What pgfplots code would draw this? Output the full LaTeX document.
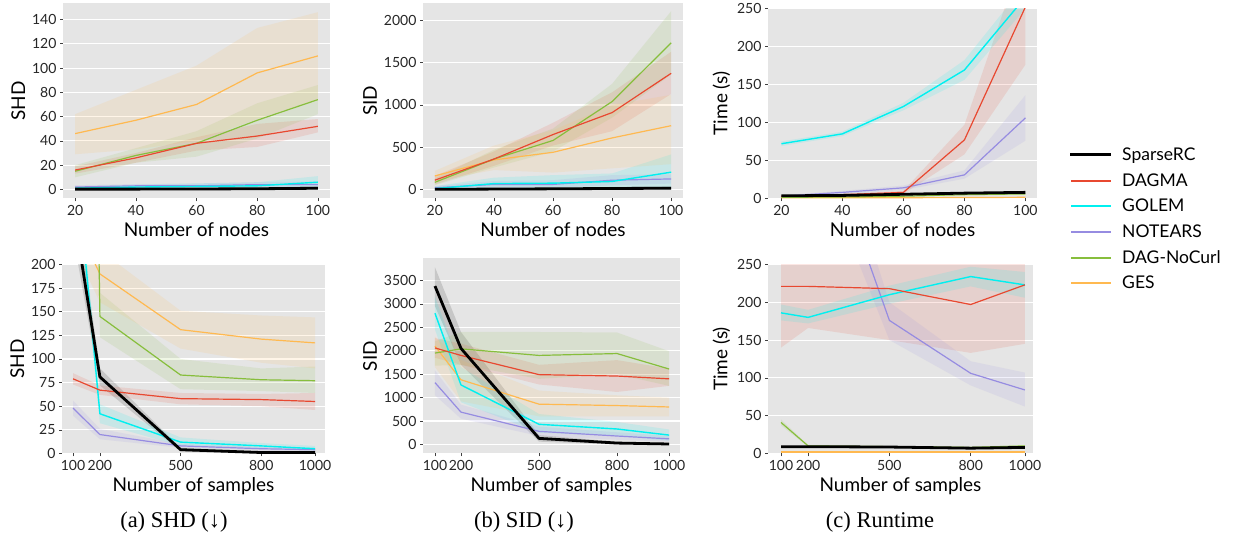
\documentclass[border=0pt]{standalone}
\usepackage{pgfplots}
\pgfplotsset{compat=1.18}
\usepackage{pgfplotstable}
\usepgfplotslibrary{fillbetween}
\usepackage{fontspec}
\setmainfont{Lato}
\newfontfamily\capfont{Liberation Serif}

\definecolor{ggbg}{RGB}{229,229,229}
\definecolor{colDAGMA}{RGB}{232,72,48}
\definecolor{colGOLEM}{RGB}{0,240,240}
\definecolor{colNOTEARS}{RGB}{150,140,225}
\definecolor{colNOCURL}{RGB}{135,190,60}
\definecolor{colGES}{RGB}{255,185,80}

\pgfplotstableread{
x S Slo Shi D Dlo Dhi G Glo Ghi N Nlo Nhi C Clo Chi E Elo Ehi
20 0.3 0 0.8 16 13 19 1 0 2.5 2 1 3.5 15 10 20 46 29 62
40 0.3 0 0.9 26 22 30 2 0.5 4 3 1.5 4.5 28 22 34 57 33 82
60 0.4 0 1.2 38 32 43 2.5 0.5 5 3 1.5 5 38 27 48 70 40 102
80 0.6 0 1.6 44 35 54 3 1 6 4 2 6 57 42 71 96 58 133
100 1 0 2.5 52 47 58 6 1 11 4 2 6.5 74 62 86 110 74 146
}\tabA

\pgfplotstableread{
x S Slo Shi D Dlo Dhi G Glo Ghi N Nlo Nhi C Clo Chi E Elo Ehi
20 2 0 6 110 60 160 10 0 40 20 5 40 85 50 130 160 100 220
40 5 0 15 360 280 450 70 10 140 60 20 100 360 260 470 350 230 520
60 8 0 20 650 520 790 75 5 170 60 20 110 580 450 720 440 200 700
80 12 0 30 910 690 1150 95 10 190 110 50 170 1040 850 1250 610 250 1000
100 15 0 40 1375 1130 1630 205 0 415 125 70 180 1735 1360 2110 755 300 1120
}\tabB

\pgfplotstableread{
x S Slo Shi D Dlo Dhi G Glo Ghi N Nlo Nhi C Clo Chi E Elo Ehi
20 3.5 2.5 4.5 3 2 4 72 69 75 3 2 4 1.5 1 2 1 0.5 1.5
40 4 3 5 5 4 6 85 82 88 8 6 10 2 1.5 2.5 1 0.5 1.5
60 5.5 4.5 6.5 8 6 10 121 116 126 14 11 17 3 2.5 3.5 1 0.5 1.5
80 7 6 8 77 58 97 169 156 182 31 26 37 5 4 6 1.2 0.7 1.7
100 8 7 9 252 176 330 265 250 282 106 76 136 6 5 7 1.5 1 2
}\tabC

\pgfplotstableread{
x S Slo Shi D Dlo Dhi G Glo Ghi N Nlo Nhi C Clo Chi E Elo Ehi
100 260 230 290 79 73 85 345 320 370 48 40 56 2000 1900 2100 250 220 280
200 81 72 90 67 62 72 42 32 52 20 15 26 145 123 170 190 160 215
500 4 2 6 58 52 64 12 8 17 8 6 10 83 68 100 131 111 151
800 1 0 2 57 50 63 8 5 11 5 3 7 78 66 90 121 96 146
1000 1 0 2 55 46 64 5 3 8 4 2 6 77 64 92 117 90 144
}\tabD

\pgfplotstableread{
x S Slo Shi D Dlo Dhi G Glo Ghi N Nlo Nhi C Clo Chi E Elo Ehi
100 3380 2950 3780 2060 1850 2270 2800 2450 3150 1320 1050 1580 1950 1680 2200 2100 1650 2300
200 2050 1700 2400 1900 1700 2150 1270 900 1650 690 550 850 2040 1700 2400 1380 920 1800
500 130 60 200 1490 1280 1700 430 250 650 280 180 380 1900 1400 2400 860 600 1150
800 30 0 60 1460 1120 1800 330 180 480 180 100 260 1940 1500 2390 830 600 1050
1000 10 0 30 1400 1250 1620 200 80 320 120 60 180 1610 1250 1990 800 600 1000
}\tabE

\pgfplotstableread{
x S Slo Shi D Dlo Dhi G Glo Ghi N Nlo Nhi C Clo Chi E Elo Ehi
100 9 8 10 221 140 330 186 176 197 700 650 750 41 37 45 2 1.5 2.5
200 9 8 10 221 166 330 180 172 190 480 420 540 10 9 11 2 1.5 2.5
500 8.5 7.5 9.5 218 150 320 210 198 222 176 150 200 9 8 10 2 1.5 2.5
800 7 6 8 197 133 300 234 221 247 106 90 122 8 7 9 2 1.5 2.5
1000 8 7 9 223 145 320 223 206 240 84 62 107 10 9 11 2 1.5 2.5
}\tabF

\newcommand\rib[3]{%
  \addplot[draw=none, forget plot, name path=#3lo] table[x=x,y=#3lo]{#1};
  \addplot[draw=none, forget plot, name path=#3hi] table[x=x,y=#3hi]{#1};
  \addplot[fill=#2, fill opacity=0.13, draw=none, forget plot] fill between[of=#3lo and #3hi];
}
\newcommand\mline[3]{\addplot[#2, forget plot] table[x=x,y=#3]{#1};}
\newcommand\panel[1]{%
  \rib{#1}{black}{S}\rib{#1}{colDAGMA}{D}\rib{#1}{colGOLEM}{G}\rib{#1}{colNOTEARS}{N}\rib{#1}{colNOCURL}{C}\rib{#1}{colGES}{E}
  \mline{#1}{draw=colGES, line width=1.2pt}{E}
  \mline{#1}{draw=colNOCURL, line width=1.2pt}{C}
  \mline{#1}{draw=colNOTEARS, line width=1.2pt}{N}
  \mline{#1}{draw=colGOLEM, line width=1.4pt}{G}
  \mline{#1}{draw=colDAGMA, line width=1.2pt}{D}
  \mline{#1}{draw=black, line width=2.8pt}{S}
}

\pgfplotsset{gg/.style={
  scale only axis, anchor=south west,
  axis background/.style={fill=ggbg},
  axis line style={draw=none},
  xtick pos=lower, ytick pos=left,
  ymajorgrids, xmajorgrids=false,
  major grid style={white, line width=1.1pt},
  tick align=outside, major tick length=3pt,
  tick style={line width=0.6pt, color=black!75},
  ticklabel style={font=\fontsize{14}{14}\selectfont, color=black!85},
  label style={font=\fontsize{19}{19}\selectfont},
  /pgf/number format/assume math mode=true,
  /pgf/number format/1000 sep={},
  scaled ticks=false,
  line join=round,
}}

\begin{document}
\begin{tikzpicture}
\path (0pt,0pt) rectangle (1239pt,-546pt);

\begin{axis}[gg, at={(63pt,-197pt)}, width=267pt, height=195pt,
  xmin=16, xmax=104, ymin=-7.4, ymax=153.2,
  xtick={20,40,60,80,100}, ytick={0,20,...,140},
  xlabel={Number of nodes}, ylabel={SHD}]
\panel{\tabA}
\end{axis}

\begin{axis}[gg, at={(423pt,-197pt)}, width=260pt, height=195pt,
  xmin=16, xmax=104, ymin=-106, ymax=2201,
  xtick={20,40,60,80,100}, ytick={0,500,...,2000},
  xlabel={Number of nodes}, ylabel={SID}]
\panel{\tabB}
\end{axis}

\begin{axis}[gg, at={(768pt,-197pt)}, width=269pt, height=190pt,
  xmin=15.6, xmax=103.8, ymin=0, ymax=250,
  xtick={20,40,60,80,100}, ytick={0,50,...,250},
  xlabel={Number of nodes}, ylabel={Time (s)}]
\panel{\tabC}
\end{axis}

\begin{axis}[hide axis, scale only axis, width=2pt, height=2pt,
  at={(1067pt,-142pt)}, anchor=north west,
  xmin=0, xmax=1, ymin=0, ymax=1,
  legend style={at={(0,1)}, anchor=north west, draw=none, fill=none,
    font=\fontsize{17.5}{17.5}\selectfont, row sep=7.5pt,
    /tikz/every odd column/.append style={column sep=9pt}},
  legend cell align=left,
  legend image code/.code={\path[#1] (0pt,-0.5pt) rectangle (39pt,0.5pt);}]
\addlegendimage{draw=black, fill=black, line width=2pt}
\addlegendentry{SparseRC}
\addlegendimage{draw=colDAGMA, fill=colDAGMA, line width=0.8pt}
\addlegendentry{DAGMA}
\addlegendimage{draw=colGOLEM, fill=colGOLEM, line width=0.8pt}
\addlegendentry{GOLEM}
\addlegendimage{draw=colNOTEARS, fill=colNOTEARS, line width=0.8pt}
\addlegendentry{NOTEARS}
\addlegendimage{draw=colNOCURL, fill=colNOCURL, line width=0.8pt}
\addlegendentry{DAG-NoCurl}
\addlegendimage{draw=colGES, fill=colGES, line width=0.8pt}
\addlegendentry{GES}
\end{axis}

\begin{axis}[gg, at={(62pt,-452pt)}, width=263pt, height=189pt,
  xmin=59, xmax=1037, ymin=0, ymax=200,
  xtick={100,200,500,800,1000}, ytick={0,25,...,200},
  xlabel={Number of samples}, ylabel={SHD}]
\panel{\tabD}
\end{axis}

\begin{axis}[gg, at={(423pt,-452pt)}, width=257pt, height=195pt,
  xmin=54, xmax=1042, ymin=-192, ymax=3969,
  xtick={100,200,500,800,1000}, ytick={0,500,...,3500},
  xlabel={Number of samples}, ylabel={SID}]
\panel{\tabE}
\end{axis}

\begin{axis}[gg, at={(768pt,-452pt)}, width=265pt, height=189pt,
  xmin=52, xmax=1030, ymin=0, ymax=250,
  xtick={100,200,500,800,1000}, ytick={0,50,...,250},
  xlabel={Number of samples}, ylabel={Time (s)}]
\panel{\tabF}
\end{axis}

\node[font=\capfont\fontsize{22.5}{22.5}\selectfont] at (174pt,-521pt) {(a) SHD (↓)};
\node[font=\capfont\fontsize{22.5}{22.5}\selectfont] at (524pt,-521pt) {(b) SID (↓)};
\node[font=\capfont\fontsize{22.5}{22.5}\selectfont] at (880pt,-521pt) {(c) Runtime};
\end{tikzpicture}
\end{document}
